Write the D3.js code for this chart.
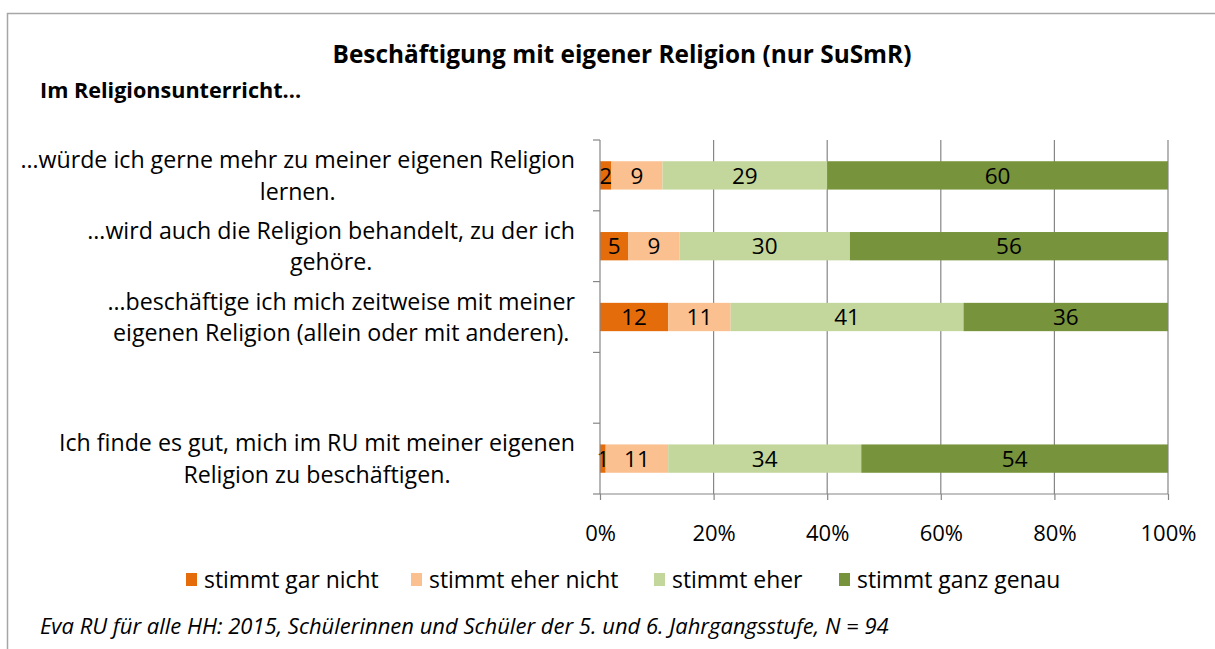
<!DOCTYPE html>
<html>
<head>
<meta charset="utf-8">
<script src="https://cdn.jsdelivr.net/npm/d3@7"></script>
<style>
  body { margin: 0; background: #fff; }
  svg { font-family: "Open Sans", "Noto Sans", sans-serif; }
</style>
</head>
<body>
<svg id="chart" width="1215" height="649"></svg>
<script>
// categories (each as wrapped lines), one empty slot as in the source chart
const categories = ["q1", "q2", "q3", "gap", "q4"];
const categoryLines = [
  ["…würde ich gerne mehr zu meiner eigenen Religion", "lernen."],
  ["…wird auch die Religion behandelt, zu der ich", "gehöre."],
  ["…beschäftige ich mich zeitweise mit meiner", "eigenen Religion (allein oder mit anderen)."],
  [],
  ["Ich finde es gut, mich im RU mit meiner eigenen", "Religion zu beschäftigen."]
];
const seriesNames = ["stimmt gar nicht", "stimmt eher nicht", "stimmt eher", "stimmt ganz genau"];
const garNicht = [2, 5, 12, null, 1];
const eherNicht = [9, 9, 11, null, 11];
const eher = [29, 30, 41, null, 34];
const ganzGenau = [60, 56, 36, null, 54];
const xTicks = [0, 20, 40, 60, 80, 100];
const colors = ["#E46C0A", "#FAC090", "#C3D69B", "#77933C"];

const svg = d3.select("#chart");

// outer chart frame
svg.append("rect")
  .attr("x", 7.5).attr("y", 13.5)
  .attr("width", 1300).attr("height", 700)
  .attr("fill", "none").attr("stroke", "#a6a6a6").attr("stroke-width", 1.5);

svg.append("text")
  .attr("x", 622).attr("y", 63)
  .attr("text-anchor", "middle")
  .attr("font-weight", "bold").attr("font-size", 24.4)
  .text("Beschäftigung mit eigener Religion (nur SuSmR)");

svg.append("text")
  .attr("x", 40).attr("y", 98)
  .attr("font-weight", "bold").attr("font-size", 21.6)
  .text("Im Religionsunterricht...");

let margin = { top: 140, left: 600, right: 1168, bottom: 494 };

let x = d3.scaleLinear().domain([0, 100]).range([margin.left, margin.right]);
let y = d3.scaleBand().domain(categories).range([margin.top, margin.bottom]).paddingInner(0.6).paddingOuter(0.3);

// gridlines
svg.append("g").selectAll("line")
  .data(xTicks.slice(1))
  .enter().append("line")
  .attr("x1", d => x(d)).attr("x2", d => x(d))
  .attr("y1", margin.top).attr("y2", margin.bottom)
  .attr("stroke", "#868686").attr("stroke-width", 1.2);

// stacked bars
let rows = categories.map((c, i) => ({
  cat: c,
  vals: [garNicht[i], eherNicht[i], eher[i], ganzGenau[i]]
})).filter(r => r.vals[0] !== null);

let segs = [];
rows.forEach(r => {
  let acc = 0;
  r.vals.forEach((v, k) => {
    segs.push({ cat: r.cat, k: k, v: v, x0: acc, x1: acc + v });
    acc += v;
  });
});

let bars = svg.append("g");
bars.selectAll("rect")
  .data(segs)
  .enter().append("rect")
  .attr("x", d => x(d.x0))
  .attr("width", d => x(d.x1) - x(d.x0))
  .attr("y", d => y(d.cat))
  .attr("height", y.bandwidth())
  .attr("fill", d => colors[d.k]);

bars.selectAll("text")
  .data(segs)
  .enter().append("text")
  .attr("x", d => (x(d.x0) + x(d.x1)) / 2)
  .attr("y", d => y(d.cat) + y.bandwidth() / 2)
  .attr("dy", "0.36em")
  .attr("text-anchor", "middle")
  .attr("font-size", 22.5)
  .attr("fill", "#000")
  .text(d => d.v);

// y axis with ticks between categories
let yAxis = svg.append("g");
yAxis.append("line")
  .attr("x1", margin.left).attr("x2", margin.left)
  .attr("y1", margin.top).attr("y2", margin.bottom)
  .attr("stroke", "#868686").attr("stroke-width", 1.2);
let step = (margin.bottom - margin.top) / categories.length;
yAxis.selectAll(".tk")
  .data(d3.range(categories.length + 1))
  .enter().append("line")
  .attr("x1", margin.left - 7).attr("x2", margin.left)
  .attr("y1", d => margin.top + d * step).attr("y2", d => margin.top + d * step)
  .attr("stroke", "#868686").attr("stroke-width", 1.2);

// category labels
categories.forEach((c, i) => {
  let lines = categoryLines[i];
  if (!lines.length) return;
  let cy = y(c) + y.bandwidth() / 2;
  let g = svg.append("g");
  let t = g.selectAll("text").data(lines).enter().append("text")
    .attr("font-size", 23.2)
    .attr("text-anchor", "middle")
    .attr("y", (d, j) => cy + (j - (lines.length - 1) / 2) * 31.5)
    .attr("dy", "0.36em")
    .attr("fill", "#000")
    .text(d => d);
  let maxW = d3.max(t.nodes(), n => n.getComputedTextLength());
  t.attr("x", 575 - maxW / 2);
});

// x axis
let xAxis = svg.append("g").attr("transform", `translate(0,${margin.bottom})`)
  .call(d3.axisBottom(x).tickValues(xTicks).tickSize(6).tickFormat(d => d + "%"));
xAxis.selectAll("line,path").attr("stroke", "#868686").attr("stroke-width", 1.2);
xAxis.select(".domain").attr("d", `M${margin.left},0H${margin.right}`);
xAxis.selectAll("text")
  .attr("font-size", 22).attr("font-family", "'Open Sans', 'Noto Sans', sans-serif")
  .attr("fill", "#000").attr("dy", "0").attr("y", 47);

// legend
let legendX = [186, 411, 654, 839];
let legend = svg.append("g");
seriesNames.forEach((s, k) => {
  legend.append("rect")
    .attr("x", legendX[k]).attr("y", 573)
    .attr("width", 11).attr("height", 13)
    .attr("fill", colors[k]);
  legend.append("text")
    .attr("x", legendX[k] + 18).attr("y", 580)
    .attr("dy", "0.36em")
    .attr("font-size", 22.9)
    .text(s);
});

svg.append("text")
  .attr("x", 40).attr("y", 634)
  .attr("font-style", "italic").attr("font-size", 22)
  .text("Eva RU für alle HH: 2015, Schülerinnen und Schüler der 5. und 6. Jahrgangsstufe, N = 94");
</script>
</body>
</html>
